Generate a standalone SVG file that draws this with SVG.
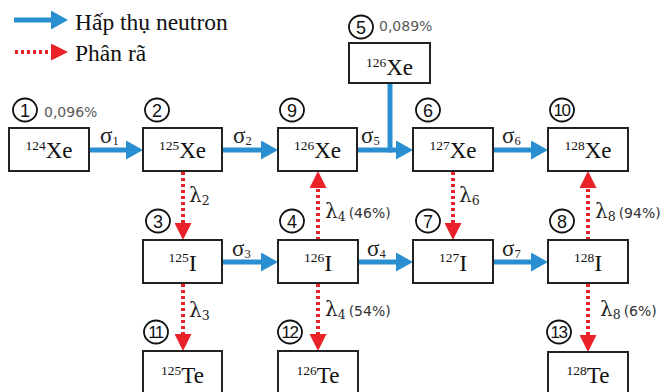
<svg xmlns="http://www.w3.org/2000/svg" width="670" height="392" viewBox="0 0 670 392">
<style>
.box{fill:#fff;stroke:#222;stroke-width:2}
.circ{fill:none;stroke:#111;stroke-width:1.8}
.num{font-family:"Liberation Sans",Arial,sans-serif;font-size:18px;fill:#111;text-anchor:middle}
.num2{font-family:"Liberation Sans",Arial,sans-serif;font-size:17px;fill:#111;text-anchor:middle;letter-spacing:-1.5px}
.nt{font-family:"Liberation Serif","Times New Roman",serif;fill:#111;text-anchor:middle}
.sup{font-size:13.5px}
.big{font-size:23px}
.bigi{font-size:24px}
.pct{font-family:"DejaVu Sans",sans-serif;font-size:14px;fill:#595959}
.sig{font-family:"Liberation Serif","Times New Roman",serif;fill:#222;font-size:23px}
.lam{font-family:"DejaVu Serif",serif;fill:#222;font-size:20px}
.sub{font-size:12.5px}
.par{font-family:"DejaVu Sans",sans-serif;font-size:14px;fill:#333}
.leg{font-family:"Liberation Serif","Times New Roman",serif;font-size:23.5px;fill:#111}
.blue{stroke:#2a8fd0;stroke-width:5;fill:none}
.red{stroke:#e82228;stroke-width:4;fill:none;stroke-dasharray:3 3}
</style>
<defs>
<marker id="hb" markerUnits="userSpaceOnUse" markerWidth="17" markerHeight="19" refX="7" refY="9.5" orient="auto" viewBox="0 0 17 19">
<path d="M0,0 L17,9.5 L0,19 z" fill="#2a8fd0"/>
</marker>
<marker id="hr" markerUnits="userSpaceOnUse" markerWidth="17" markerHeight="17" refX="7" refY="8.5" orient="auto" viewBox="0 0 17 17">
<path d="M0,0 L17,8.5 L0,17 z" fill="#e82228"/>
</marker>
</defs>

<g id="legend">
<line class="blue" x1="14" y1="20" x2="58" y2="20" marker-end="url(#hb)"/>
<text class="leg" x="75" y="30">Hấp thụ neutron</text>
<line class="red" x1="15" y1="52" x2="58" y2="52" marker-end="url(#hr)"/>
<text class="leg" x="75" y="61">Phân rã</text>
</g>

<g id="connectors">
<line class="blue" x1="89" y1="150" x2="133" y2="150" marker-end="url(#hb)"/>
<line class="blue" x1="222" y1="150" x2="268" y2="150" marker-end="url(#hb)"/>
<line class="blue" x1="357" y1="150" x2="403" y2="150" marker-end="url(#hb)"/>
<path class="blue" d="M390,83 V152.5"/>
<line class="blue" x1="493" y1="150" x2="538" y2="150" marker-end="url(#hb)"/>
<line class="blue" x1="222" y1="262" x2="268" y2="262" marker-end="url(#hb)"/>
<line class="blue" x1="358" y1="262" x2="403" y2="262" marker-end="url(#hb)"/>
<line class="blue" x1="493" y1="262" x2="538" y2="262" marker-end="url(#hb)"/>

<line class="red" x1="183" y1="172" x2="183" y2="230" marker-end="url(#hr)"/>
<line class="red" x1="318" y1="240" x2="318" y2="181" marker-end="url(#hr)"/>
<line class="red" x1="453" y1="172" x2="453" y2="230" marker-end="url(#hr)"/>
<line class="red" x1="588" y1="240" x2="588" y2="181" marker-end="url(#hr)"/>
<line class="red" x1="183" y1="284" x2="183" y2="341" marker-end="url(#hr)"/>
<line class="red" x1="318" y1="284" x2="318" y2="341" marker-end="url(#hr)"/>
<line class="red" x1="588" y1="284" x2="588" y2="342" marker-end="url(#hr)"/>

<text class="sig" x="100" y="143">σ<tspan class="sub" dy="2">1</tspan></text>
<text class="sig" x="233" y="143">σ<tspan class="sub" dy="2">2</tspan></text>
<text class="sig" x="361" y="143">σ<tspan class="sub" dy="2">5</tspan></text>
<text class="sig" x="502" y="143">σ<tspan class="sub" dy="2">6</tspan></text>
<text class="sig" x="232" y="256">σ<tspan class="sub" dy="2">3</tspan></text>
<text class="sig" x="367" y="256">σ<tspan class="sub" dy="2">4</tspan></text>
<text class="sig" x="502" y="256">σ<tspan class="sub" dy="2">7</tspan></text>

<text class="lam" x="189" y="202">λ<tspan class="sub" dy="3">2</tspan></text>
<text class="lam" x="325" y="218">λ<tspan class="sub" dy="3">4</tspan><tspan class="par" dx="3" dy="-3">(46%)</tspan></text>
<text class="lam" x="459" y="202">λ<tspan class="sub" dy="3">6</tspan></text>
<text class="lam" x="595" y="218">λ<tspan class="sub" dy="3">8</tspan><tspan class="par" dx="3" dy="-3">(94%)</tspan></text>
<text class="lam" x="189" y="317">λ<tspan class="sub" dy="3">3</tspan></text>
<text class="lam" x="325" y="316">λ<tspan class="sub" dy="3">4</tspan><tspan class="par" dx="3" dy="-3">(54%)</tspan></text>
<text class="lam" x="600" y="316">λ<tspan class="sub" dy="3">8</tspan><tspan class="par" dx="3" dy="-3">(6%)</tspan></text>
</g>

<g id="n1">
<ellipse class="circ" cx="25" cy="110" rx="12" ry="11.5"/><text class="num" x="25" y="116.5">1</text>
<text class="pct" x="44" y="117">0,096%</text>
<rect class="box" x="9" y="128" width="80" height="43"/>
<text class="nt" x="49" y="158"><tspan class="sup" dy="-8">124</tspan><tspan class="big" dy="8">Xe</tspan></text>
</g>
<g id="n2">
<ellipse class="circ" cx="157" cy="110" rx="12" ry="11.5"/><text class="num" x="157" y="116.5">2</text>
<rect class="box" x="143" y="128" width="79" height="43"/>
<text class="nt" x="182.5" y="158"><tspan class="sup" dy="-8">125</tspan><tspan class="big" dy="8">Xe</tspan></text>
</g>
<g id="n9">
<ellipse class="circ" cx="292" cy="110" rx="12" ry="11.5"/><text class="num" x="292" y="116.5">9</text>
<rect class="box" x="278" y="128" width="79" height="43"/>
<text class="nt" x="317.5" y="158"><tspan class="sup" dy="-8">126</tspan><tspan class="big" dy="8">Xe</tspan></text>
</g>
<g id="n5">
<ellipse class="circ" cx="361" cy="27" rx="12" ry="11.5"/><text class="num" x="361" y="33.5">5</text>
<text class="pct" x="379" y="31">0,089%</text>
<rect class="box" x="349" y="43" width="81" height="40"/>
<text class="nt" x="389.5" y="75"><tspan class="sup" dy="-8">126</tspan><tspan class="big" dy="8">Xe</tspan></text>
</g>
<g id="n6">
<ellipse class="circ" cx="428" cy="110" rx="12" ry="11.5"/><text class="num" x="428" y="116.5">6</text>
<rect class="box" x="413" y="128" width="80" height="43"/>
<text class="nt" x="453" y="158"><tspan class="sup" dy="-8">127</tspan><tspan class="big" dy="8">Xe</tspan></text>
</g>
<g id="n10">
<ellipse class="circ" cx="562" cy="110" rx="12" ry="11.5"/><text class="num2" x="561.5" y="116">10</text>
<rect class="box" x="548" y="128" width="80" height="43"/>
<text class="nt" x="588" y="158"><tspan class="sup" dy="-8">128</tspan><tspan class="big" dy="8">Xe</tspan></text>
</g>
<g id="n3">
<ellipse class="circ" cx="158" cy="221" rx="12" ry="11.5"/><text class="num" x="158" y="227.5">3</text>
<rect class="box" x="143" y="240" width="79" height="43"/>
<text class="nt" x="182.5" y="271"><tspan class="sup" dy="-9">125</tspan><tspan class="bigi" dy="9">I</tspan></text>
</g>
<g id="n4">
<ellipse class="circ" cx="292" cy="221" rx="12" ry="11.5"/><text class="num" x="292" y="227.5">4</text>
<rect class="box" x="278" y="240" width="80" height="43"/>
<text class="nt" x="318" y="271"><tspan class="sup" dy="-9">126</tspan><tspan class="bigi" dy="9">I</tspan></text>
</g>
<g id="n7">
<ellipse class="circ" cx="428" cy="221" rx="12" ry="11.5"/><text class="num" x="428" y="227.5">7</text>
<rect class="box" x="413" y="240" width="80" height="43"/>
<text class="nt" x="453" y="271"><tspan class="sup" dy="-9">127</tspan><tspan class="bigi" dy="9">I</tspan></text>
</g>
<g id="n8">
<ellipse class="circ" cx="562" cy="221" rx="12" ry="11.5"/><text class="num" x="562" y="227.5">8</text>
<rect class="box" x="548" y="240" width="80" height="43"/>
<text class="nt" x="588" y="271"><tspan class="sup" dy="-9">128</tspan><tspan class="bigi" dy="9">I</tspan></text>
</g>
<g id="n11">
<ellipse class="circ" cx="156" cy="332" rx="12" ry="11.5"/><text class="num2" x="155.5" y="338">11</text>
<rect class="box" x="143" y="351" width="79" height="45"/>
<text class="nt" x="182.5" y="383"><tspan class="sup" dy="-8">125</tspan><tspan class="big" dy="8">Te</tspan></text>
</g>
<g id="n12">
<ellipse class="circ" cx="290" cy="332" rx="12" ry="11.5"/><text class="num2" x="289.5" y="338">12</text>
<rect class="box" x="278" y="351" width="80" height="45"/>
<text class="nt" x="318" y="383"><tspan class="sup" dy="-8">126</tspan><tspan class="big" dy="8">Te</tspan></text>
</g>
<g id="n13">
<ellipse class="circ" cx="559" cy="332" rx="12" ry="11.5"/><text class="num2" x="558.5" y="338">13</text>
<rect class="box" x="548" y="352" width="80" height="45"/>
<text class="nt" x="588" y="383"><tspan class="sup" dy="-8">128</tspan><tspan class="big" dy="8">Te</tspan></text>
</g>
</svg>
